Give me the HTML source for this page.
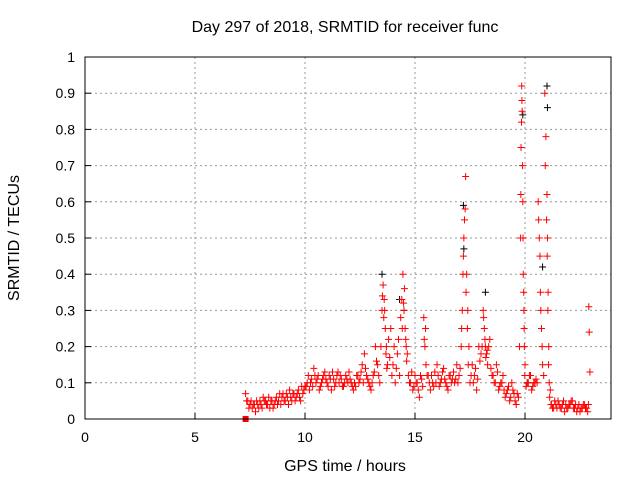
<!DOCTYPE html>
<html><head><meta charset="utf-8"><style>
body{margin:0;background:#fff}
svg text{font-family:"Liberation Sans",sans-serif;font-size:14px;fill:#000}
svg text.big{font-size:16px}
</style></head><body>
<svg id="c" width="640" height="480">
<text class="big" x="345" y="32" text-anchor="middle">Day 297 of 2018, SRMTID for receiver func</text>
<g id="grid"></g><g id="marks"></g>
<rect x="85" y="57" width="526" height="362" fill="none" stroke="#000"/>
<text class="big" x="345" y="471" text-anchor="middle">GPS time / hours</text>
<text class="big" transform="translate(19,238) rotate(-90)" text-anchor="middle">SRMTID / TECUs</text>
</svg>
<script>
const xTicks=[0,5,10,15,20];
const yTicks=[0,0.1,0.2,0.3,0.4,0.5,0.6,0.7,0.8,0.9,1];
const yLabels=["0","0.1","0.2","0.3","0.4","0.5","0.6","0.7","0.8","0.9","1"];
const redT=[7.3,7.4,7.5,7.6,7.7,7.8,7.9,8.0,8.1,8.2,8.3,8.4,8.5,8.6,8.7,8.8,8.9,9.0,9.1,9.2,9.3,9.4,9.5,
9.6,9.7,9.8,9.9,10.0,10.1,10.2,10.3,10.4,10.5,10.6,10.7,10.8,10.9,11.0,11.1,11.2,11.3,11.4,11.5,11.6,11.7,11.8,11.9,12.0,12.1,12.2,12.3,12.4,12.5,
12.6,12.7,12.8,12.9,13.0,13.1,13.2,13.3,13.4,
13.5,13.55,13.6,13.65,13.7,13.75,
13.8,13.9,14.0,14.1,14.2,14.3,
14.4,14.45,14.5,14.55,14.6,14.65,
14.7,14.8,14.9,15.0,15.1,15.2,15.3,
15.4,15.45,15.5,
15.6,15.7,15.8,15.9,16.0,16.1,16.2,16.3,16.4,16.5,16.6,16.7,16.8,16.9,17.0,
17.1,17.15,17.2,17.25,17.3,17.35,17.4,17.45,
17.5,17.6,17.7,17.8,17.9,18.0,
18.1,18.15,18.2,18.25,18.3,18.4,
18.5,18.6,18.7,18.8,18.9,19.0,19.1,19.2,19.3,19.4,19.5,19.6,19.7,
19.8,19.82,19.85,19.87,19.9,19.92,19.95,19.97,20.0,
20.1,20.2,20.3,20.4,20.5,20.55,
20.6,20.65,20.7,20.75,20.8,
20.9,20.95,21.0,21.02,21.05,21.08,21.1,21.15,
21.2,21.3,21.4,21.5,21.6,21.7,21.8,21.9,22.0,22.1,22.2,22.3,22.4,22.5,22.6,22.7,22.8,22.85,
22.9,22.92,22.95];
const redV=[0.07,0.05,0.04,0.03,0.04,0.05,0.03,0.04,0.06,0.05,0.04,0.03,0.05,0.04,0.06,0.05,0.04,0.07,0.05,0.06,0.08,0.05,0.07,
0.06,0.08,0.05,0.07,0.09,0.1,0.08,0.11,0.14,0.1,0.12,0.09,0.11,0.13,0.1,0.12,0.08,0.11,0.1,0.13,0.12,0.09,0.1,0.11,0.13,0.1,0.08,0.09,0.12,0.11,
0.15,0.18,0.12,0.1,0.08,0.12,0.2,0.15,0.1,
0.3,0.37,0.33,0.25,0.2,0.15,
0.22,0.25,0.15,0.1,0.18,0.12,
0.33,0.4,0.3,0.25,0.2,0.18,
0.12,0.1,0.08,0.12,0.1,0.06,0.11,
0.28,0.2,0.15,
0.12,0.08,0.1,0.13,0.15,0.09,0.11,0.14,0.1,0.08,0.12,0.11,0.1,0.15,0.12,
0.2,0.3,0.45,0.55,0.67,0.4,0.3,0.2,
0.1,0.15,0.12,0.08,0.2,0.18,
0.3,0.25,0.2,0.18,0.15,0.22,
0.12,0.1,0.15,0.08,0.1,0.12,0.06,0.08,0.05,0.1,0.07,0.04,0.06,
0.5,0.75,0.92,0.85,0.6,0.4,0.3,0.2,0.15,
0.1,0.12,0.08,0.1,0.11,0.1,
0.6,0.5,0.35,0.25,0.15,
0.9,0.78,0.62,0.5,0.35,0.2,0.1,0.08,
0.04,0.03,0.04,0.05,0.03,0.04,0.02,0.03,0.04,0.05,0.03,0.04,0.03,0.02,0.03,0.04,0.03,0.02,
0.31,0.24,0.13];
const red2T=[7.35,7.45,7.55,7.65,7.75,7.85,7.95,8.05,8.15,8.25,8.35,8.45,8.55,8.65,8.75,8.85,8.95,9.05,9.15,9.25,9.35,9.45,9.55,9.65,9.75,9.85,9.95,
10.05,10.15,10.25,10.35,10.45,10.55,10.65,10.75,10.85,10.95,11.05,11.15,11.25,11.35,11.45,11.55,11.65,11.75,11.85,11.95,12.05,12.15,12.25,12.35,12.45,12.55,12.65,12.75,12.85,12.95,13.05,13.15,13.25,13.35,
13.45,13.52,13.58,13.62,13.68,13.72,13.85,13.95,14.05,14.15,14.25,14.35,14.42,14.48,14.52,14.58,14.62,14.75,14.85,14.95,15.05,15.15,15.25,15.35,15.42,15.48,15.55,
15.65,15.75,15.85,15.95,16.05,16.15,16.25,16.35,16.45,16.55,16.65,16.75,16.85,16.95,17.05,17.12,17.18,17.22,17.28,17.32,17.38,17.42,17.55,17.65,17.75,17.85,17.95,
18.05,18.12,18.18,18.22,18.28,18.35,18.45,18.55,18.65,18.75,18.85,18.95,19.05,19.15,19.25,19.35,19.45,19.55,19.65,19.75,19.81,19.84,19.86,19.89,19.91,19.94,19.96,19.99,
20.05,20.15,20.25,20.35,20.45,20.62,20.68,20.72,20.78,20.85,20.92,20.98,21.01,21.04,21.07,21.12,21.18,21.25,21.35,21.45,21.55,21.65,21.75,21.85,21.95,22.05,22.15,22.25,22.35,22.45,22.55,22.65,22.75,22.88];
const red2V=[0.05,0.03,0.05,0.04,0.02,0.04,0.05,0.03,0.05,0.04,0.06,0.05,0.03,0.05,0.04,0.07,0.06,0.05,0.07,0.04,0.06,0.07,0.05,0.07,0.06,0.09,0.08,
0.09,0.12,0.1,0.09,0.12,0.11,0.08,0.1,0.12,0.11,0.09,0.11,0.13,0.09,0.12,0.1,0.11,0.09,0.12,0.1,0.11,0.09,0.1,0.12,0.1,0.13,0.1,0.14,0.11,0.09,0.1,0.13,0.16,0.12,
0.2,0.34,0.28,0.3,0.18,0.14,0.17,0.12,0.2,0.14,0.22,0.28,0.25,0.32,0.36,0.22,0.16,0.1,0.13,0.09,0.1,0.08,0.12,0.09,0.22,0.25,0.12,
0.1,0.12,0.09,0.1,0.12,0.1,0.13,0.11,0.09,0.12,0.1,0.13,0.11,0.1,0.14,0.25,0.4,0.5,0.58,0.35,0.25,0.15,0.12,0.1,0.14,0.11,0.16,
0.2,0.28,0.22,0.17,0.19,0.2,0.14,0.12,0.1,0.13,0.09,0.1,0.08,0.07,0.09,0.06,0.08,0.05,0.07,0.2,0.62,0.82,0.88,0.7,0.5,0.35,0.25,0.12,
0.09,0.1,0.12,0.09,0.1,0.55,0.45,0.3,0.2,0.12,0.7,0.55,0.45,0.3,0.15,0.06,0.04,0.03,0.05,0.03,0.04,0.03,0.05,0.04,0.03,0.04,0.05,0.03,0.02,0.04,0.03,0.04,0.03,0.04];
const blackT=[13.5,14.3,14.5,17.2,17.22,18.2,19.9,20.1,20.8,21.0,21.02];
const blackV=[0.4,0.33,0.3,0.59,0.47,0.35,0.84,0.1,0.42,0.92,0.86];
const X0=85,X1=613,XMAX=24,Y0=419,Y1=57;
const sx=v=>X0+(X1-X0)*v/XMAX, sy=v=>Y0-(Y0-Y1)*v;
const NS="http://www.w3.org/2000/svg";
const grid=document.getElementById('grid'),marks=document.getElementById('marks');
function mk(tag,attrs,parent){const e=document.createElementNS(NS,tag);for(const k in attrs)e.setAttribute(k,attrs[k]);parent.appendChild(e);return e;}
xTicks.forEach(t=>{const x=sx(t);
 const l=mk('line',{x1:x,x2:x,y1:Y1,y2:Y0,stroke:'#999','stroke-dasharray':'2,3'},grid);
 
 
 mk('line',{x1:x,x2:x,y1:Y0,y2:Y0-6,stroke:'#000'},grid);
 const tx=mk('text',{x:x,y:Y0+23,'text-anchor':'middle'},grid);tx.textContent=t;
 
 });
yTicks.forEach((t,i)=>{const y=sy(t);
 const l=mk('line',{x1:X0,x2:611,y1:y,y2:y,stroke:'#999','stroke-dasharray':'2,3'},grid);
 
 
 mk('line',{x1:X0,x2:X0+6,y1:y,y2:y,stroke:'#000'},grid);
 const tx=mk('text',{x:X0-10,y:y+5,'text-anchor':'end'},grid);tx.textContent=yLabels[i];
 
 });
function plus(t,v,col,name){const x=sx(t),y=sy(v);
 const p=mk('path',{d:`M${x-3.5},${y}h7M${x},${y-3.5}v7`,stroke:col,'stroke-width':1},marks);
 
 }
blackT.forEach((t,i)=>plus(t,blackV[i],'#000','black-point'));
redT.forEach((t,i)=>plus(t,redV[i],'#f00','red-point'));
red2T.forEach((t,i)=>plus(t,red2V[i],'#f00','red-point'));
const sq=mk('rect',{x:sx(7.3)-3,y:Y0-3,width:6,height:6,fill:'#f00'},marks);


</script>
</body></html>
